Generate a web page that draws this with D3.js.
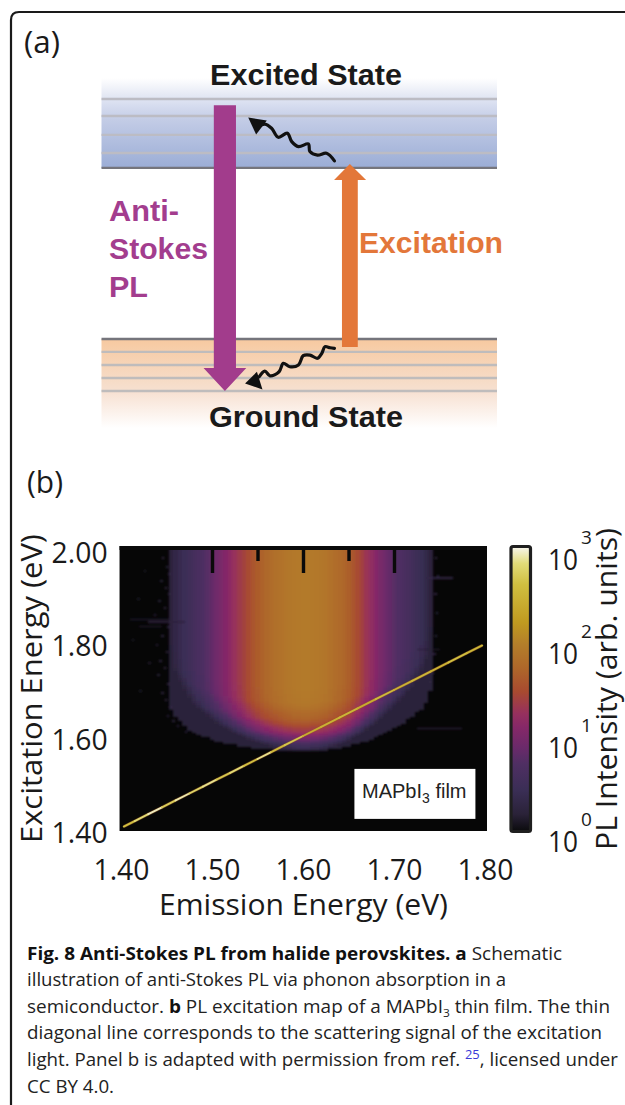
<!DOCTYPE html>
<html><head><meta charset="utf-8">
<script src="https://cdn.jsdelivr.net/npm/d3@7/dist/d3.min.js"></script>
<style>html,body{margin:0;padding:0;background:#fff}svg{display:block}</style></head>
<body><svg id="c" width="625" height="1105"></svg>
<script>
// ---------- Panel (b) data ----------
const emissionTicks=[1.40,1.50,1.60,1.70,1.80];
const excitationTicks=[1.40,1.60,1.80,2.00];
const topMajorTicks=[1.50,1.60,1.70];
const topMinorTicks=[1.55,1.65];
const heatBoundsX=[1.3984,1.8022];
const heatBoundsY=[1.3935,2.0130];
const emissionGrid=[1.455,1.46,1.465,1.47,1.475,1.48,1.485,1.49,1.495,1.50,1.505,1.51,1.515,1.52,1.525,1.53,1.535,1.54,1.545,1.55,1.555,1.56,1.565,1.57,1.575,1.58,1.585,1.59,1.595,1.60,1.605,1.61,1.615,1.62,1.625,1.63,1.635,1.64,1.645,1.65,1.655,1.66,1.665,1.67,1.675,1.68,1.685,1.69,1.695,1.70,1.705,1.71,1.715,1.72,1.725,1.73,1.735,1.74];
// log10 of PL intensity in each emission column, far above the onset
const logIntensity=[.22,.30,.38,.44,.50,.56,.62,.68,.76,.84,.92,1.00,1.08,1.16,1.25,1.33,1.41,1.49,1.56,1.62,1.68,1.73,1.77,1.81,1.84,1.87,1.89,1.91,1.92,1.93,1.93,1.92,1.91,1.89,1.87,1.83,1.79,1.75,1.71,1.65,1.57,1.49,1.39,1.29,1.19,1.09,.99,.91,.84,.77,.71,.65,.59,.53,.47,.40,.32,.22];
// lowest excitation energy with signal in each emission column
const onsetEnergy=[1.66,1.645,1.635,1.625,1.615,1.608,1.603,1.599,1.596,1.593,1.590,1.587,1.585,1.583,1.581,1.579,1.578,1.576,1.575,1.574,1.573,1.572,1.571,1.570,1.569,1.568,1.568,1.567,1.567,1.567,1.567,1.568,1.568,1.569,1.570,1.571,1.572,1.574,1.576,1.578,1.581,1.584,1.587,1.590,1.594,1.597,1.602,1.607,1.612,1.617,1.623,1.629,1.636,1.643,1.651,1.660,1.675,1.70];
const aboveOnset=[0,.012,.024,.041,.067,.104,.14];
const logDrop=[1.72,1.42,1.08,.66,.26,.03,0];
// diagonal scattering line
const scatterEnergy=[1.403,1.415,1.43,1.445,1.46,1.475,1.49,1.505,1.52,1.535,1.55,1.565,1.58,1.60,1.62,1.64,1.66,1.68,1.70,1.72,1.74,1.76,1.78,1.797];
const scatterLog=[2.6,2.8,2.92,2.7,2.9,2.75,2.85,2.65,2.8,2.6,2.85,2.55,2.65,2.4,2.45,2.5,2.4,2.55,2.45,2.5,2.45,2.6,2.5,2.55];
// faint streaks: excitation, from, to, log intensity
const streaks=[[1.618,1.725,1.775,.35],[1.945,1.735,1.765,.3],[1.855,1.41,1.455,.2],[1.85,1.43,1.47,.22],[1.84,1.42,1.445,.16],[1.79,1.725,1.75,.15]];
// isolated noisy pixels at the edge of the signal: emission, excitation, log intensity
const specks=[[1.445,1.99,.3],[1.449,1.97,.25],[1.452,1.955,.3],[1.443,1.94,.2],[1.448,1.925,.3],[1.452,1.91,.26],[1.441,1.895,.2],[1.447,1.88,.3],[1.436,1.865,.22],[1.45,1.84,.28],[1.444,1.82,.25],[1.438,1.80,.2],[1.449,1.785,.3],[1.442,1.765,.24],[1.447,1.75,.3],[1.44,1.735,.2],[1.451,1.715,.28],[1.444,1.695,.24],[1.448,1.68,.3],[1.453,1.665,.3],[1.45,1.645,.22],[1.456,1.635,.24],[1.461,1.625,.22],[1.47,1.61,.2],[1.425,1.96,.12],[1.418,1.90,.12],[1.412,1.81,.14],[1.43,1.76,.14],[1.42,1.70,.12],
[1.745,1.99,.28],[1.747,1.95,.24],[1.744,1.91,.28],[1.746,1.87,.24],[1.745,1.82,.26],[1.743,1.78,.28],[1.741,1.74,.26],[1.738,1.72,.26]];
const colorStops=[0,.18,.43,.71,.88,1.1,1.24,1.47,1.72,1.97,2.2,2.6,2.82,3];
const colorHexes=["#0a0a0c","#2a2238","#3a2e55","#4f2f63","#6a2a6a","#862868","#96305e","#a84a30","#ae672a","#b47e2a","#c09a20","#d0bf40","#e2dc78","#f8f6f0"];
const colorbarTicks=[0,1,2,3];

// ---------- Panel (a) schematic, in level units ----------
const excitedLevels=[81.5,87.7,94.2,100];
const excitedEdge=76.4;
const groundLevels=[0,4.45,8.9,13.4];
const groundEdge=17.8;
const bandSpan=[0,100];
const excitedFadeTop=107.2, groundFadeBottom=-12.7;
const pumpArrow=[[28.4,97.9],[34.0,97.9],[34.0,7.9],[36.6,7.9],[31.2,0],[25.8,7.9],[28.4,7.9]];
const excitationArrow=[[60.8,15.1],[64.8,15.1],[64.8,72.3],[66.9,72.3],[62.8,77.7],[58.8,72.3],[60.8,72.3]];
const waveTop=[[58.9,78.8],[56.9,81.4],[54.6,80.8],[52.7,82.0],[52.3,84.6],[49.8,83.7],[48.1,85.4],[47.0,88.3],[44.7,86.9],[43.0,90.0],[41.3,91.4],[39.6,90.5]];
const waveTopHead=[[37.1,93.7],[41.8,92.6],[39.1,87.8]];
const waveBottom=[[58.9,14.6],[57.8,14.8],[56.5,15.2],[55.7,12.9],[54.6,11.2],[52.7,12.3],[51.0,12.1],[49.8,8.9],[47.6,8.3],[45.97,9.5],[44.9,6.6],[42.6,5.2],[41.3,6.8],[39.9,4.9]];
const waveBottomHead=[[36.3,2.6],[39.3,6.6],[40.7,.5]];

const svg=d3.select("#c");
const sans="Open Sans,Noto Sans,sans-serif", arial="Liberation Sans,Arial,Helvetica,sans-serif";
const defs=svg.append("defs");
function grad(id,stops){const g=defs.append("linearGradient").attr("id",id).attr("x1",0).attr("x2",0).attr("y1",0).attr("y2",1);
  stops.forEach(s=>g.append("stop").attr("offset",s[0]).attr("stop-color",s[1]));}
grad("gE0",[[0,"#ffffff"],[1,"#dfe4f2"]]);
grad("gE1",[[0,"#dfe4f3"],[.3,"#c3cce6"],[1,"#9badd6"]]);
grad("gG0",[[0,"#f7c9a0"],[1,"#f6e0d0"]]);
grad("gG1",[[0,"#f7e0d1"],[1,"#ffffff"]]);
defs.append("filter").attr("id","soft").append("feGaussianBlur").attr("stdDeviation",.8);

// frame
svg.append("path").attr("d","M11,1105V20Q11,12 19,12H625").attr("fill","none").attr("stroke","#1a1a1a").attr("stroke-width",2.2);

// ---------- Panel (a) ----------
const xA=d3.scaleLinear().domain([0,100]).range([101.5,497]);
const yA=d3.scaleLinear().domain([0,100]).range([391,99]);
const band=(top,bottom,fill)=>svg.append("rect").attr("x",xA(bandSpan[0])).attr("width",xA(bandSpan[1])-xA(bandSpan[0])).attr("y",yA(top)).attr("height",yA(bottom)-yA(top)).attr("fill",fill);
band(excitedFadeTop,100,"url(#gE0)");
band(100,excitedEdge,"url(#gE1)");
band(groundEdge,0,"url(#gG0)");
band(0,groundFadeBottom,"url(#gG1)");
const level=(list,color,w)=>svg.append("g").selectAll("line").data(list).join("line")
  .attr("x1",xA(bandSpan[0])).attr("x2",xA(bandSpan[1])).attr("y1",d=>yA(d)).attr("y2",d=>yA(d)).attr("stroke",color).attr("stroke-width",w);
level(excitedLevels,"#bcbcc4",2.4);level(groundLevels,"#bfbcbc",2.4);
level([excitedEdge,groundEdge],"#75757c",2.4);
const polyA=d3.line().x(d=>xA(d[0])).y(d=>yA(d[1]));
svg.append("path").attr("d",polyA(pumpArrow)+"Z").attr("fill","#a23c8c");
svg.append("path").attr("d",polyA(excitationArrow)+"Z").attr("fill","#e37739");
const waveLine=d3.line().x(d=>xA(d[0])).y(d=>yA(d[1])).curve(d3.curveCatmullRom.alpha(.5));
[[waveTop,waveTopHead],[waveBottom,waveBottomHead]].forEach(([w,h])=>{
  svg.append("path").attr("d",waveLine(w)).attr("fill","none").attr("stroke","#111").attr("stroke-width",3.2).attr("stroke-linecap","round");
  svg.append("path").attr("d",polyA(h)+"Z").attr("fill","#111");
});
function label(t,x,y,o={}){return svg.append("text").attr("x",x).attr("y",y).text(t)
  .attr("font-family",o.family||arial).attr("font-weight",o.weight||"bold").attr("font-size",o.size||30).attr("fill",o.fill||"#1a1a1a")
  .attr("textLength",o.len||null).attr("lengthAdjust",o.len?"spacingAndGlyphs":null);}
label("Excited State",210,85,{len:192});
label("Ground State",209,427,{len:194});
label("Anti-",109,221,{fill:"#a33d8e",len:70});
label("Stokes",109,259,{fill:"#a33d8e",len:99});
label("PL",109,297,{fill:"#a33d8e",len:39});
label("Excitation",359,253,{fill:"#e3773a",len:144});
label("(a)",24,53,{family:sans,weight:"normal",size:31,len:36});
label("(b)",27,493,{family:sans,weight:"normal",size:31,len:36});

// ---------- Panel (b) ----------
const x=d3.scaleLinear().domain([1.4,1.8]).range([121,485]);
const y=d3.scaleLinear().domain([1.4,2.0]).range([828,552]);
const yLabel=d3.scaleLinear().domain([1.4,2.0]).range([833,553]);
const cb=d3.scaleLinear().domain([0,3]).range([830,548]);
const color=d3.scaleLinear().domain(colorStops).range(colorHexes).interpolate(d3.interpolateRgb).clamp(true);
const hx=x(heatBoundsX[0]),hw=x(heatBoundsX[1])-hx,hy=y(heatBoundsY[1]),hh=y(heatBoundsY[0])-hy;
defs.append("clipPath").attr("id","heatClip").append("rect").attr("x",hx).attr("y",hy).attr("width",hw).attr("height",hh);
svg.append("rect").attr("x",hx).attr("width",hw).attr("y",hy).attr("height",hh).attr("fill","#060606");
const dropAt=d3.scaleLinear().domain(aboveOnset).range(logDrop).clamp(true);
const rowStep=.005,colStep=.005;
const rows=d3.range(1.56,2.0125,rowStep);
const cells=[];
emissionGrid.forEach((e,i)=>rows.forEach(r=>{
  if(r<onsetEnergy[i])return;
  cells.push({e,r,t:Math.max(Math.min(logIntensity[i],.2),logIntensity[i]-dropAt(r-onsetEnergy[i]))});
}));
const heat=svg.append("g").attr("clip-path","url(#heatClip)").append("g").attr("filter","url(#soft)").attr("shape-rendering","crispEdges");
heat.append("g").selectAll("rect").data(cells).join("rect")
  .attr("x",d=>x(d.e-colStep/2)).attr("width",x(colStep)-x(0)+.3)
  .attr("y",d=>y(d.r+rowStep/2)).attr("height",y(0)-y(rowStep)+.3)
  .attr("fill",d=>color(d.t));
heat.append("g").selectAll("rect").data(streaks).join("rect")
  .attr("x",d=>x(d[1])).attr("width",d=>x(d[2])-x(d[1])).attr("y",d=>y(d[0])).attr("height",1.5).attr("fill",d=>color(d[3]));
heat.append("g").selectAll("rect").data(specks).join("rect")
  .attr("x",d=>x(d[0])).attr("width",x(.0028)-x(0)).attr("y",d=>y(d[1])).attr("height",2).attr("fill",d=>color(d[2]));
// scattering line
const scatterPts=d3.zip(scatterEnergy,scatterLog);
const segs=d3.pairs(scatterPts);
svg.append("path").attr("d",d3.line().x(d=>x(d[0])).y(d=>y(d[0]))(scatterPts)).attr("fill","none").attr("stroke","#9a5a22").attr("stroke-width",3).attr("stroke-opacity",.55);
svg.append("g").selectAll("line").data(segs).join("line")
  .attr("x1",d=>x(d[0][0])).attr("y1",d=>y(d[0][0])).attr("x2",d=>x(d[1][0])).attr("y2",d=>y(d[1][0]))
  .attr("stroke",d=>color(d[0][1])).attr("stroke-width",1.9).attr("stroke-linecap","round");
// top ticks
const topAxis=(vals,size)=>{const g=svg.append("g").attr("transform",`translate(0,${hy+1.5})`)
  .call(d3.axisBottom(x).tickValues(vals).tickSize(size).tickFormat(""));
  g.selectAll(".tick line").attr("stroke","#0a0a0a").attr("stroke-width",3.4);g.select(".domain").remove();return g;};
topAxis(topMajorTicks,25.5);topAxis(topMinorTicks,13.5);
svg.append("line").attr("x1",hx).attr("x2",hx+hw).attr("y1",hy+2).attr("y2",hy+2).attr("stroke","#0a0a0a").attr("stroke-width",4);
// annotation box
svg.append("rect").attr("x",x(1.6565)).attr("y",y(1.5285)).attr("width",121).attr("height",50).attr("fill","#fff");
const mt=svg.append("text").attr("x",362).attr("y",798).attr("font-family",arial).attr("font-size",20).attr("fill","#222");
mt.append("tspan").text("MAPbI");mt.append("tspan").text("3").attr("font-size",14).attr("dy",5);mt.append("tspan").text(" film").attr("dy",-5);
// axes
const styleAxis=g=>{g.select(".domain").remove();g.selectAll("text").attr("font-family",sans).attr("font-size",30).attr("fill","#1a1a1a").attr("lengthAdjust","spacingAndGlyphs");};
svg.append("g").attr("transform","translate(0,855.7)").call(d3.axisBottom(x).tickValues(emissionTicks).tickSize(0).tickPadding(3).tickFormat(d3.format(".2f"))).call(styleAxis).selectAll("text").attr("textLength",56);
svg.append("g").attr("transform","translate(110.6,0)").call(d3.axisLeft(yLabel).tickValues(excitationTicks).tickSize(0).tickPadding(3).tickFormat(d3.format(".2f"))).call(styleAxis).selectAll("text").attr("textLength",56);
label("Emission Energy (eV)",159,915,{family:sans,weight:"normal",size:30,len:289});
svg.append("text").text("Excitation Energy (eV)").attr("transform","translate(42,843) rotate(-90)").attr("font-family",sans).attr("font-size",30).attr("fill","#1a1a1a").attr("textLength",309).attr("lengthAdjust","spacingAndGlyphs");
svg.append("text").text("PL Intensity (arb. units)").attr("transform","translate(617,850) rotate(-90)").attr("font-family",sans).attr("font-size",29).attr("fill","#1a1a1a").attr("textLength",322).attr("lengthAdjust","spacingAndGlyphs");
// colorbar
const cbId="cbGrad";
const cg=defs.append("linearGradient").attr("id",cbId).attr("x1",0).attr("x2",0).attr("y1",1).attr("y2",0);
colorStops.forEach((s,i)=>cg.append("stop").attr("offset",s/3).attr("stop-color",colorHexes[i]));
svg.append("rect").attr("x",511).attr("width",19.5).attr("y",cb(3)-1.5).attr("height",cb(0)-cb(3)+3).attr("rx",2).attr("fill",`url(#${cbId})`).attr("stroke","#1f1f1f").attr("stroke-width",3.2);
const cAxis=svg.append("g").attr("transform","translate(548,0)").call(d3.axisRight(cb).tickValues(colorbarTicks).tickSize(0).tickPadding(0).tickFormat(""));
cAxis.select(".domain").remove();
cAxis.selectAll(".tick text").each(function(d){
  const t=d3.select(this).attr("dy",null).attr("font-family",sans).attr("fill","#1a1a1a").attr("x",0).attr("y",21.5);
  t.append("tspan").text("10").attr("font-size",30).attr("textLength",30).attr("lengthAdjust","spacingAndGlyphs");
  t.append("tspan").text(d).attr("font-size",19).attr("dx",3).attr("dy",-26);
});

// ---------- Caption ----------
const capLines=[
 [["Fig. 8 Anti-Stokes PL from halide perovskites. ","b"],["a ","b"],["Schematic"]],
 [["illustration of anti-Stokes PL via phonon absorption in a"]],
 [["semiconductor. "],["b ","b"],["PL excitation map of a MAPbI"],["3","s"],[" thin film. The thin"]],
 [["diagonal line corresponds to the scattering signal of the excitation"]],
 [["light. Panel b is adapted with permission from ref. "],["25","u"],[", licensed under"]],
 [["CC BY 4.0."]]];
const capBase=[960,986,1012.7,1039,1066,1093];
const capLen=[535,479,583,575,591,87];
capLines.forEach((ln,i)=>{
  const t=svg.append("text").attr("x",27).attr("y",capBase[i]).attr("font-family",sans).attr("font-size",17.4).attr("fill","#222")
    .attr("textLength",capLen[i]).attr("lengthAdjust","spacingAndGlyphs");
  let shift=0;
  ln.forEach(s=>{const sp=t.append("tspan").text(s[0]);
    if(s[1]==="b")sp.attr("font-weight","bold").attr("fill","#111");
    let dy=-shift;shift=0;
    if(s[1]==="s"){sp.attr("font-size",11);dy+=4;shift=4;}
    if(s[1]==="u"){sp.attr("font-size",12).attr("fill","#3a3ad8");dy+=-7;shift=-7;}
    if(dy)sp.attr("dy",dy);
  });
});
</script></body></html>
